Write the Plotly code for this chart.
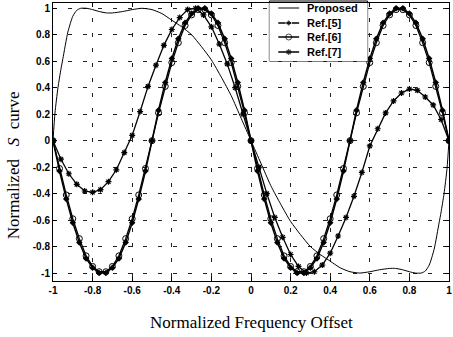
import plotly.graph_objects as go

# ---------------- data ----------------
x_prop = [-1.0, -0.99, -0.975, -0.96, -0.95, -0.925, -0.9, -0.88, -0.86, -0.83, -0.8, -0.765,
          -0.73, -0.7, -0.65, -0.6, -0.55, -0.5, -0.45, -0.4, -0.35, -0.3, -0.25, -0.2, -0.15,
          -0.1, -0.05, 0.0, 0.05, 0.1, 0.15, 0.2, 0.25, 0.3, 0.35, 0.4, 0.45, 0.5, 0.55, 0.6,
          0.65, 0.7, 0.73, 0.765, 0.8, 0.83, 0.86, 0.88, 0.9, 0.925, 0.95, 0.96, 0.975, 0.99, 1.0]
y_prop = [0.0, 0.21, 0.40, 0.54, 0.62, 0.82, 0.94, 0.985, 1.0, 1.0, 0.99, 0.975,
          0.965, 0.965, 0.975, 0.99, 1.0, 0.99, 0.96, 0.91, 0.86, 0.80, 0.71, 0.61, 0.48,
          0.34, 0.17, 0.0, -0.17, -0.34, -0.48, -0.61, -0.71, -0.80, -0.86, -0.91, -0.96, -0.99, -1.0, -0.99,
          -0.975, -0.965, -0.965, -0.975, -0.99, -1.0, -1.0, -0.985, -0.94, -0.82, -0.62, -0.54, -0.40, -0.21, 0.0]

x_ref56 = [-1.0, -0.967, -0.933, -0.9, -0.867, -0.833, -0.8, -0.767, -0.733, -0.7,
           -0.667, -0.633, -0.6, -0.567, -0.533, -0.5, -0.467, -0.433, -0.4, -0.367,
           -0.333, -0.3, -0.267, -0.233, -0.2, -0.167, -0.133, -0.1, -0.067, -0.033,
           0.0, 0.033, 0.067, 0.1, 0.133, 0.167, 0.2, 0.233, 0.267, 0.3,
           0.333, 0.367, 0.4, 0.433, 0.467, 0.5, 0.533, 0.567, 0.6, 0.633,
           0.667, 0.7, 0.733, 0.767, 0.8, 0.833, 0.867, 0.9, 0.933, 0.967, 1.0]
y_ref5 = [0.0, -0.23, -0.44, -0.62, -0.77, -0.89, -0.96, -1.0, -1.0, -0.96,
          -0.89, -0.77, -0.62, -0.44, -0.23, 0.0, 0.23, 0.44, 0.62, 0.77,
          0.89, 0.96, 1.0, 1.0, 0.96, 0.89, 0.77, 0.62, 0.44, 0.23,
          0.0, -0.23, -0.44, -0.62, -0.77, -0.89, -0.96, -1.0, -1.0, -0.96,
          -0.89, -0.77, -0.62, -0.44, -0.23, 0.0, 0.23, 0.44, 0.62, 0.77,
          0.89, 0.96, 1.0, 1.0, 0.96, 0.89, 0.77, 0.62, 0.44, 0.23, 0.0]
y_ref6 = [0.0, -0.21, -0.41, -0.59, -0.74, -0.87, -0.95, -0.99, -0.99, -0.95,
          -0.87, -0.74, -0.59, -0.41, -0.21, 0.0, 0.21, 0.41, 0.59, 0.74,
          0.87, 0.95, 0.99, 0.99, 0.95, 0.87, 0.74, 0.59, 0.41, 0.21,
          0.0, -0.21, -0.41, -0.59, -0.74, -0.87, -0.95, -0.99, -0.99, -0.95,
          -0.87, -0.74, -0.59, -0.41, -0.21, 0.0, 0.21, 0.41, 0.59, 0.74,
          0.87, 0.95, 0.99, 0.99, 0.95, 0.87, 0.74, 0.59, 0.41, 0.21, 0.0]

x_ref7 = [-1.0, -0.96, -0.92, -0.88, -0.84, -0.8, -0.76, -0.72, -0.68, -0.64,
          -0.6, -0.56, -0.52, -0.48, -0.44, -0.4, -0.36, -0.32, -0.28, -0.24,
          -0.2, -0.16, -0.12, -0.08, -0.04, 0.0, 0.04, 0.08, 0.12, 0.16,
          0.2, 0.24, 0.28, 0.32, 0.36, 0.4, 0.44, 0.48, 0.52, 0.56,
          0.6, 0.64, 0.68, 0.72, 0.76, 0.8, 0.84, 0.88, 0.92, 0.96, 1.0]
y_ref7 = [0.0, -0.14, -0.25, -0.33, -0.38, -0.39, -0.37, -0.31, -0.22, -0.09,
          0.04, 0.22, 0.41, 0.57, 0.72, 0.84, 0.93, 0.99, 1.0, 0.95,
          0.86, 0.73, 0.58, 0.40, 0.20, 0.0, -0.20, -0.40, -0.58, -0.73,
          -0.86, -0.95, -1.0, -0.99, -0.94, -0.85, -0.72, -0.58, -0.42, -0.24,
          -0.04, 0.09, 0.21, 0.30, 0.36, 0.39, 0.38, 0.33, 0.27, 0.16, 0.0]

series_names = ["Proposed", "Ref.[5]", "Ref.[6]", "Ref.[7]"]
x_ticks = [-1, -0.8, -0.6, -0.4, -0.2, 0, 0.2, 0.4, 0.6, 0.8, 1]
x_tick_text = ["-1", "-0.8", "-0.6", "-0.4", "-0.2", "0", "0.2", "0.4", "0.6", "0.8", "1"]
y_ticks = [-1, -0.8, -0.6, -0.4, -0.2, 0, 0.2, 0.4, 0.6, 0.8, 1]
y_tick_text = ["-1", "-0.8", "-0.6", "-0.4", "-0.2", "0", "0.2", "0.4", "0.6", "0.8", "1"]

# ---------------- styles ----------------
line_styles = [dict(color="black", width=1, shape="spline", smoothing=0.6),
               dict(color="black", width=1.5),
               dict(color="black", width=1.3),
               dict(color="black", width=1.3)]
marker_styles = [None,
                 dict(symbol="diamond", size=5, color="black"),
                 dict(symbol="circle-open", size=6, color="black", line=dict(width=1, color="black")),
                 dict(symbol="asterisk-open", size=5, color="black", line=dict(width=1.2, color="black"))]

# ---------------- figure ----------------
fig = go.Figure()
all_x = [x_prop, x_ref56, x_ref56, x_ref7]
all_y = [y_prop, y_ref5, y_ref6, y_ref7]
for i, name in enumerate(series_names):
    kw = dict(x=all_x[i], y=all_y[i], name=name, line=line_styles[i], showlegend=False)
    if marker_styles[i] is None:
        fig.add_trace(go.Scatter(mode="lines", **kw))
    else:
        fig.add_trace(go.Scatter(mode="lines+markers", marker=marker_styles[i], **kw))

# ---- legend drawn in its own small subplot (pixel-like local coordinates) ----
W, H = 453, 337
ML, MR, MT, MB = 53, 1, 3, 56
pw, ph = W - ML - MR, H - MT - MB
def px2paper_x(px):
    return (px - ML) / pw
def px2paper_y(py):
    return (H - MB - py) / ph

leg_left, leg_right, leg_top, leg_bottom = 271, 370, 1, 61
row_y = [8, 23, 37, 52]
sample_x0, sample_x1, text_x = 280, 301, 307

for i, name in enumerate(series_names):
    ls = dict(line_styles[i])
    ls.pop("shape", None); ls.pop("smoothing", None)
    if marker_styles[i] is None:
        fig.add_trace(go.Scatter(x=[sample_x0, sample_x1], y=[row_y[i], row_y[i]], mode="lines",
                                 line=ls, xaxis="x2", yaxis="y2", showlegend=False,
                                 hoverinfo="skip"))
    else:
        ms = dict(marker_styles[i])
        ms["size"] = [0, ms["size"], 0]
        fig.add_trace(go.Scatter(x=[sample_x0, (sample_x0 + sample_x1) / 2, sample_x1],
                                 y=[row_y[i]] * 3, mode="lines+markers",
                                 line=ls, marker=ms, xaxis="x2", yaxis="y2",
                                 showlegend=False, hoverinfo="skip"))

tickfont = dict(family="Liberation Sans", size=10, color="black", weight="bold")
axis_common = dict(showline=True, linecolor="black", linewidth=1, mirror="ticks",
                   ticks="inside", ticklen=4, tickcolor="black",
                   showgrid=True, gridcolor="#222", gridwidth=1, griddash="4px,11px",
                   zeroline=False, tickfont=tickfont, ticklabeloverflow="allow")

annotations = [
    dict(text="Normalized Frequency Offset", xref="paper", yref="paper",
         x=0.5, y=px2paper_y(322), xanchor="center", yanchor="middle", showarrow=False,
         font=dict(family="Liberation Serif", size=17, color="black")),
    dict(text="Normalized\u00a0\u00a0\u00a0<i>S</i>\u00a0\u00a0curve", xref="paper", yref="paper",
         x=px2paper_x(14), y=px2paper_y(165), xanchor="center", yanchor="middle",
         showarrow=False, textangle=-90,
         font=dict(family="Liberation Serif", size=17, color="black")),
]
for i, name in enumerate(series_names):
    annotations.append(dict(text=name, xref="x2", yref="y2", x=text_x, y=row_y[i],
                            xanchor="left", yanchor="middle", showarrow=False,
                            font=dict(family="Liberation Sans", size=11, color="black",
                                      weight="bold")))

fig.update_layout(
    width=W, height=H,
    margin=dict(l=ML, r=MR, t=MT, b=MB),
    paper_bgcolor="white", plot_bgcolor="white",
    xaxis=dict(range=[-1, 1], tickvals=x_ticks, ticktext=x_tick_text, **axis_common),
    yaxis=dict(range=[-1.06, 1.04], tickvals=y_ticks, ticktext=y_tick_text, **axis_common),
    xaxis2=dict(domain=[px2paper_x(leg_left), px2paper_x(leg_right)], range=[leg_left, leg_right],
                visible=False, anchor="y2", fixedrange=True),
    yaxis2=dict(domain=[px2paper_y(leg_bottom), 1.0], range=[leg_bottom, MT],
                visible=False, anchor="x2", fixedrange=True),
    shapes=[dict(type="rect", xref="paper", yref="paper",
                 x0=px2paper_x(leg_left), x1=px2paper_x(leg_right),
                 y0=px2paper_y(leg_bottom), y1=px2paper_y(leg_top),
                 fillcolor="white", line=dict(color="black", width=1), layer="between")],
    showlegend=False,
    annotations=annotations,
)

fig.write_html("out.html")
